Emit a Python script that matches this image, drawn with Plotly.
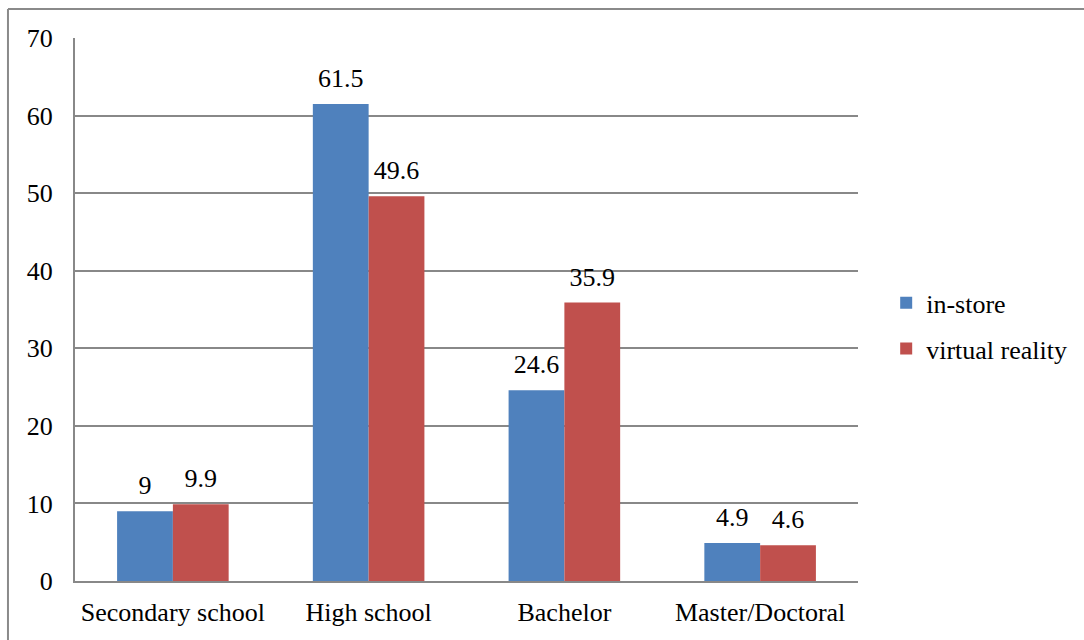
import plotly.graph_objects as go

# Education level categories and share of respondents (%) per shopping channel
categories = ["Secondary school", "High school", "Bachelor", "Master/Doctoral"]
in_store = [9, 61.5, 24.6, 4.9]
virtual_reality = [9.9, 49.6, 35.9, 4.6]
y_ticks = [0, 10, 20, 30, 40, 50, 60, 70]

FONT = "Liberation Serif, Times New Roman, serif"
GRID = "#888888"
SIZE = 26
GAP = 0.43

series = [("in-store", in_store, "#4F81BD"),
          ("virtual reality", virtual_reality, "#C0504D")]

fig = go.Figure()
for i, (name, values, color) in enumerate(series):
    fig.add_trace(go.Bar(
        name=name, x=categories, y=values,
        marker=dict(color=color, line=dict(width=0)),
        offsetgroup=str(i), legendgroup=str(i),
    ))
for i, (name, values, color) in enumerate(series):
    # value labels, grouped the same way as the bars
    fig.add_trace(go.Scatter(
        x=categories, y=values, mode="markers+text",
        text=[f"{v:g}" for v in values], textposition="top center",
        textfont=dict(family=FONT, size=SIZE, color="black"),
        marker=dict(size=15, opacity=0),
        offsetgroup=str(i), showlegend=False, hoverinfo="skip",
        cliponaxis=False,
    ))

# Outer frame (top and left edges)
fig.add_shape(type="line", xref="paper", yref="paper",
              x0=-0.0856, y0=-0.12, x1=-0.0856, y1=1.0534,
              line=dict(color="#8a8a8a", width=2))
fig.add_shape(type="line", xref="paper", yref="paper",
              x0=-0.0856, y0=1.0534, x1=1.32, y1=1.0534,
              line=dict(color="#8a8a8a", width=2))

fig.update_layout(
    width=1084, height=640,
    margin=dict(l=75, r=226, t=38, b=59, autoexpand=False),
    paper_bgcolor="white", plot_bgcolor="white",
    barmode="group", bargap=GAP, bargroupgap=0,
    scattermode="group", scattergap=GAP,
    font=dict(family=FONT, size=SIZE, color="black"),
    showlegend=True,
    legend=dict(x=1.036, y=0.47, xanchor="left", yanchor="middle",
                font=dict(family=FONT, size=SIZE, color="black"),
                tracegroupgap=9, itemwidth=30, bgcolor="rgba(0,0,0,0)"),
    xaxis=dict(showgrid=False, showline=True, linecolor=GRID, linewidth=2,
               ticks="", ticklabelstandoff=7, tickfont=dict(family=FONT, size=SIZE)),
    yaxis=dict(range=[0, 70], tickvals=y_ticks, showgrid=True, gridcolor=GRID,
               gridwidth=2, showline=True, linecolor=GRID, linewidth=2,
               ticks="", ticklabelstandoff=15, zeroline=False,
               tickfont=dict(family=FONT, size=SIZE)),
)

fig.write_html("out.html")
